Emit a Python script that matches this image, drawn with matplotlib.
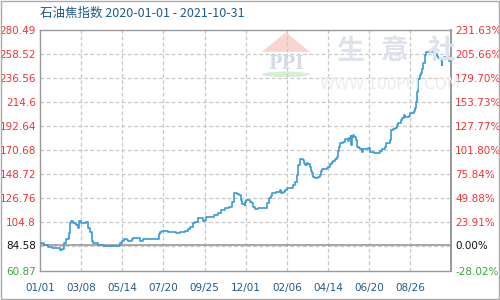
import matplotlib
matplotlib.use('Agg')
import matplotlib.pyplot as plt
import matplotlib.patches as mpatches
import pandas as pd
import numpy as np

plt.rcParams['font.family'] = ['DejaVu Sans']

TITLE = '石油焦指数 2020-01-01 - 2021-10-31'
BASE = 84.58

dates = [
    '2020-01-01', '2020-01-07', '2020-01-14', '2020-01-21', '2020-02-02', '2020-02-05',
    '2020-02-09', '2020-02-13', '2020-02-17', '2020-02-19', '2020-02-21', '2020-02-24',
    '2020-02-29', '2020-03-03', '2020-03-04', '2020-03-08', '2020-03-16', '2020-03-19',
    '2020-03-22', '2020-03-25', '2020-03-27', '2020-04-04', '2020-04-13', '2020-05-07',
    '2020-05-10', '2020-05-13', '2020-05-17', '2020-05-21', '2020-05-24', '2020-05-29',
    '2020-06-01', '2020-06-11', '2020-06-16', '2020-07-06', '2020-07-12', '2020-07-14',
    '2020-07-17', '2020-07-28', '2020-08-10', '2020-08-16', '2020-08-24', '2020-08-29',
    '2020-09-01', '2020-09-06', '2020-09-09', '2020-09-14', '2020-09-20', '2020-09-23',
    '2020-09-26', '2020-09-28', '2020-10-04', '2020-10-09', '2020-10-10', '2020-10-17',
    '2020-10-21', '2020-10-28', '2020-11-03', '2020-11-08', '2020-11-11', '2020-11-12',
    '2020-11-16', '2020-11-20', '2020-11-23', '2020-11-24', '2020-11-29', '2020-11-30',
    '2020-12-02', '2020-12-08', '2020-12-11', '2020-12-13', '2020-12-16', '2020-12-21',
    '2021-01-01', '2021-01-04', '2021-01-07', '2021-01-11', '2021-01-12', '2021-01-19',
    '2021-01-26', '2021-01-27', '2021-01-31', '2021-02-03', '2021-02-06', '2021-02-16',
    '2021-02-19', '2021-02-22', '2021-02-24', '2021-02-27', '2021-02-28', '2021-03-04',
    '2021-03-06', '2021-03-07', '2021-03-10', '2021-03-13', '2021-03-15', '2021-03-17',
    '2021-03-19', '2021-03-21', '2021-03-23', '2021-03-29', '2021-03-31', '2021-04-02',
    '2021-04-04', '2021-04-12', '2021-04-14', '2021-04-17', '2021-04-20', '2021-04-22',
    '2021-04-25', '2021-04-28', '2021-04-30', '2021-05-02', '2021-05-04', '2021-05-09',
    '2021-05-11', '2021-05-14', '2021-05-17', '2021-05-18', '2021-05-21', '2021-05-22',
    '2021-05-23', '2021-05-25', '2021-05-26', '2021-05-29', '2021-05-31', '2021-06-03',
    '2021-06-05', '2021-06-08', '2021-06-10', '2021-06-18', '2021-06-21', '2021-06-27',
    '2021-07-05', '2021-07-07', '2021-07-10', '2021-07-16', '2021-07-18', '2021-07-23',
    '2021-07-24', '2021-07-25', '2021-07-26', '2021-07-29', '2021-08-01', '2021-08-04',
    '2021-08-06', '2021-08-10', '2021-08-13', '2021-08-16', '2021-08-17', '2021-08-20',
    '2021-08-23', '2021-08-25', '2021-08-28', '2021-08-31', '2021-09-02', '2021-09-04',
    '2021-09-05', '2021-09-07', '2021-09-08', '2021-09-09', '2021-09-11', '2021-09-12',
    '2021-09-13', '2021-09-16', '2021-09-19', '2021-09-21', '2021-09-30', '2021-10-02',
    '2021-10-05', '2021-10-09', '2021-10-10', '2021-10-13', '2021-10-15', '2021-10-16',
    '2021-10-17', '2021-10-19', '2021-10-24', '2021-10-27', '2021-10-31',
]
values = [
    86.1, 84.6, 82.0, 81.1, 79.6, 80.8,
    86.1, 89.3, 94.7, 103.9, 106.3, 104.0,
    102.6, 100.0, 106.3, 104.7, 105.5, 99.6,
    95.6, 88.0, 85.7, 84.6, 83.2, 83.2,
    85.7, 87.8, 89.3, 88.7, 87.8, 89.3,
    90.3, 87.8, 89.3, 89.3, 93.9, 96.3,
    97.2, 96.3, 95.4, 96.3, 97.2, 98.5,
    100.3, 103.9, 105.4, 108.5, 108.5, 106.2,
    107.4, 109.3, 109.3, 110.0, 111.5, 113.0,
    116.1, 117.6, 119.1, 123.7, 128.9, 131.4,
    130.8, 129.8, 125.2, 121.3, 120.7, 123.7,
    125.2, 123.7, 122.8, 119.1, 116.7, 117.6,
    117.6, 122.2, 126.8, 128.9, 131.9, 132.2,
    134.4, 131.9, 132.5, 134.4, 135.9, 138.9,
    141.9, 148.1, 157.2, 161.8, 162.4, 161.8,
    158.8, 157.2, 158.8, 158.0, 155.7, 151.7,
    150.2, 146.5, 145.6, 146.5, 148.1, 151.7,
    153.3, 154.2, 155.7, 157.8, 160.2, 160.8,
    162.4, 164.8, 170.3, 173.9, 177.6, 178.5,
    180.7, 181.3, 179.5, 181.6, 183.7, 175.5,
    182.5, 184.6, 182.5, 180.1, 173.9, 172.4,
    171.5, 169.4, 171.5, 172.4, 169.4, 167.9,
    168.2, 170.0, 171.5, 173.9, 177.0, 177.6,
    180.1, 184.6, 189.2, 189.8, 190.7, 193.7,
    195.8, 198.3, 199.9, 202.9, 201.4, 201.0,
    202.0, 204.4, 205.0, 206.5, 209.0, 215.0,
    224.2, 231.8, 235.5, 236.1, 239.4, 240.9,
    244.6, 250.1, 257.7, 260.7, 261.3, 260.0,
    258.6, 256.7, 254.6, 253.8, 253.0, 248.5,
    254.6, 256.1, 256.1, 252.5, 252.5,
]

left_labels = ['280.49', '258.52', '236.56', '214.6', '192.64', '170.68',
               '148.72', '126.76', '104.8', '84.58', '60.87']
right_labels = ['231.63%', '205.66%', '179.70%', '153.73%', '127.77%', '101.80%',
                '75.84%', '49.88%', '23.91%', '0.00%', '-28.02%']
tick_vals = [280.49, 258.52, 236.56, 214.6, 192.64, 170.68,
             148.72, 126.76, 104.8, 84.58, 60.87]

RED, GREEN, BLACK = '#f03232', '#33aa33', '#111111'
LINE = '#3a9ad9'
GRID = '#c8c8c8'
AXC = '#999999'
BLUE = '#1f5a8c'

x = pd.to_datetime(dates)
start, end = pd.Timestamp('2020-01-01'), pd.Timestamp('2021-10-31')
ymin, ymax = 60.87, 280.49

fig = plt.figure(figsize=(5, 3), dpi=100, facecolor='white')
ax = fig.add_axes([0.08, 0.0983, 0.822, 0.8017])
ax.set_xlim(start, end)
ax.set_ylim(ymin, ymax)

# ── watermark (behind everything) ──
fig.add_artist(mpatches.Polygon([[0.572, 0.893], [0.524, 0.827], [0.62, 0.827]],
               closed=True, transform=fig.transFigure, facecolor='#f8d6cf',
               edgecolor='none', zorder=0))
fig.text(0.572, 0.787, 'PPI', ha='center', va='center', fontsize=13,
         fontweight='bold', color='#d3dbe7', family='DejaVu Serif', zorder=0)
fig.add_artist(mpatches.Ellipse((0.572, 0.752), 0.095, 0.018, transform=fig.transFigure,
               facecolor='#d6edd6', edgecolor='none', zorder=0))
for ch, cx in zip('生意社', [0.70, 0.79, 0.882]):
    fig.text(cx, 0.83, ch, ha='center', va='center', fontsize=20,
             fontweight='bold', color='#dde2ed', family=['Noto Sans CJK SC'], zorder=0)
fig.text(0.78, 0.717, 'WWW.100PPI.COM', ha='center', va='center', fontsize=11,
         color='#ececec', zorder=0)
ax.patch.set_alpha(0)

# grid
for g in np.linspace(ymin, ymax, 11)[1:-1]:
    ax.axhline(g, color=GRID, lw=0.9, ls=(0, (3, 2)), zorder=1)
xt = pd.date_range(start, periods=10, freq='67D')
for d in xt[1:]:
    ax.axvline(d, color=GRID, lw=0.9, ls=(0, (3, 2)), zorder=1)
ax.axhline(BASE, color=AXC, lw=1.2, zorder=2)

ax.plot(x, values, color=LINE, lw=1.2, drawstyle='steps-post', zorder=3)

# axes styling
for s in ax.spines.values():
    s.set_color(AXC)
    s.set_linewidth(1.0)
ax.spines['right'].set_linewidth(1.4)

colors = [RED] * 9 + [BLACK, GREEN]
ax.set_yticks(tick_vals)
ax.set_yticklabels(left_labels, fontsize=7.5)
for lab, c in zip(ax.get_yticklabels(), colors):
    lab.set_color(c)
ax.tick_params(axis='y', length=0, pad=3)

ax2 = ax.twinx()
ax2.set_ylim(ymin, ymax)
ax2.set_yticks(tick_vals)
ax2.set_yticklabels(right_labels, fontsize=7.5)
for lab, c in zip(ax2.get_yticklabels(), colors):
    lab.set_color(c)
ax2.tick_params(axis='y', length=0, pad=3)
for s in ax2.spines.values():
    s.set_visible(False)

ax.set_xticks(xt)
ax.set_xticklabels([d.strftime('%m/%d') for d in xt], fontsize=7.5, color=BLUE)
ax.tick_params(axis='x', length=0, pad=9)

fig.text(0.08, 0.955, TITLE, ha='left', va='center', fontsize=9, color=BLUE,
         family=['Noto Sans CJK SC', 'DejaVu Sans'])

fig.add_artist(mpatches.Rectangle((0.001, 0.002), 0.997, 0.995, transform=fig.transFigure,
               fill=False, edgecolor='#aaaaaa', lw=1.0))

fig.savefig('out.png', dpi=100, facecolor='white')
